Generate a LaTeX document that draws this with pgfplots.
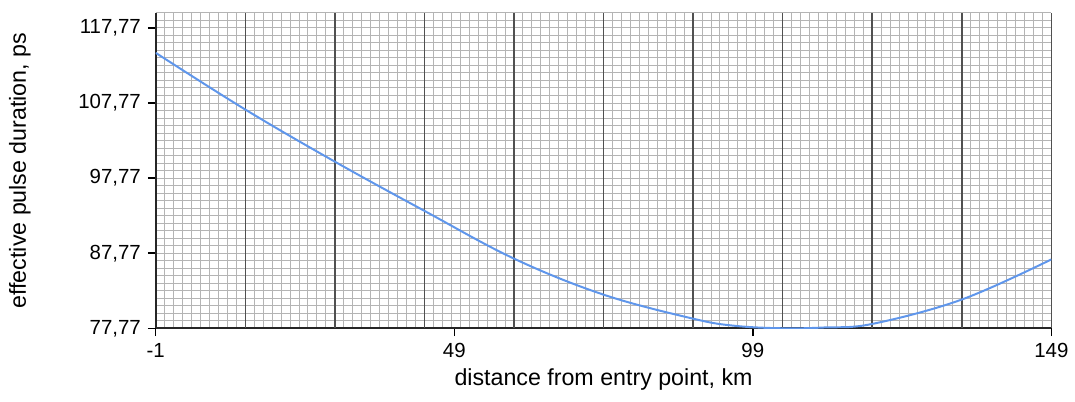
\documentclass[border=0pt]{standalone}
\usepackage{pgfplots}
\pgfplotsset{compat=1.18}
\usepackage{fontspec}
\setmainfont{Liberation Sans}
\definecolor{curve}{RGB}{95,150,235}
\definecolor{mgrid}{RGB}{180,180,180}
\definecolor{Mgrid}{RGB}{80,80,80}
\begin{document}
\begin{tikzpicture}
\begin{axis}[
  scale only axis,
  width=451.5pt, height=159pt,
  xmin=-1, xmax=149,
  ymin=77.77, ymax=119.77,
  axis x line*=bottom, axis y line*=left,
  axis line style={-, line width=1pt, black!85},
  xtick={-1,49,99,149},
  ytick={77.77,87.77,97.77,107.77,117.77},
  yticklabels={77{,}77,87{,}77,97{,}77,107{,}77,117{,}77},
  /pgf/number format/assume math mode=true,
  tick align=outside,
  major tick length=4pt,
  minor tick length=0pt,
  tick style={black, line width=0.7pt},
  minor xtick={-1,0.5,...,149},
  minor ytick={77.77,78.77,...,119.8},
  minor grid style={mgrid, line width=0.5pt},
  xminorgrids=true, yminorgrids=true,
  xmajorgrids=false, ymajorgrids=false,
  extra x ticks={14,29,44,59,74,89,104,119,134,149},
  extra x tick labels={},
  extra x tick style={grid=major, major grid style={Mgrid, line width=0.75pt}, major tick length=0pt},
  tick label style={font=\fontsize{10.3pt}{12pt}\selectfont},
  label style={font=\fontsize{11.7pt}{14pt}\selectfont},
  xlabel={distance from entry point, km},
  ylabel={effective pulse duration, ps},
  xlabel style={at={(axis description cs:0.5,0)}, anchor=center, yshift=-26pt},
  ylabel style={at={(axis description cs:-0.1517,0.5)}, anchor=center},
  clip=true,
]
\addplot[curve, line width=1pt, smooth, tension=0.6] coordinates {
(-1,114.45) (14,106.9) (29,99.96) (44,93.41) (59,87.05) (74,82.25) (89,79.05) (96,78.1) (104,77.77) (111,77.88) (119,78.35) (134,81.6) (149,86.94)
};
\end{axis}
\path ([shift={(-78.5pt,-37pt)}]current axis.south west) rectangle ([shift={(7.5pt,6.5pt)}]current axis.north east);
\end{tikzpicture}
\end{document}
